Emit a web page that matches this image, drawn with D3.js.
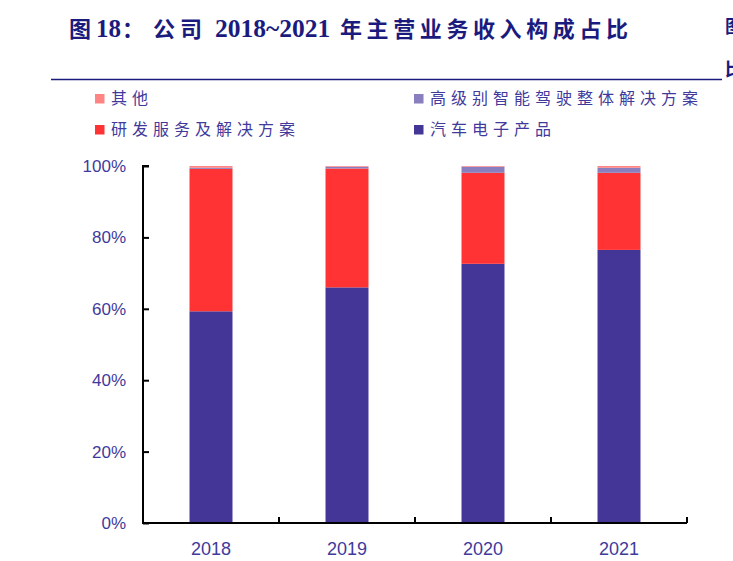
<!DOCTYPE html>
<html>
<head>
<meta charset="utf-8">
<script src="https://cdn.jsdelivr.net/npm/d3@7"></script>
<style>
  body { margin: 0; background: #fff; }
  svg { display: block; }
</style>
</head>
<body>
<svg id="chart" width="733" height="561"></svg>
<script>
// data (percent of main business revenue)
var years = ["2018", "2019", "2020", "2021"];
var autoElec = [59.3, 66.0, 72.6, 76.5];   // 汽车电子产品
var rdService = [39.9, 33.3, 25.5, 21.6];  // 研发服务及解决方案
var adasSolution = [0.3, 0.5, 1.7, 1.4];   // 高级别智能驾驶整体解决方案
var others = [0.5, 0.2, 0.2, 0.5];         // 其他
var yTicks = [0, 20, 40, 60, 80, 100];

var seriesKeys = ["auto", "rd", "adas", "other"];
var seriesNames = {
  auto: "汽车电子产品",
  rd: "研发服务及解决方案",
  adas: "高级别智能驾驶整体解决方案",
  other: "其他"
};
var colors = { auto: "#433696", rd: "#FF3334", adas: "#8A7FBE", other: "#FF8484" };

var rows = years.map(function(y, i) {
  return { year: y, auto: autoElec[i], rd: rdService[i], adas: adasSolution[i], other: others[i] };
});

var svg = d3.select("#chart");
var navy = "#1B1B7E";
var labelColor = "#3F3A9C";

// title, split in pieces so the spacing matches
var titleParts = [
  { t: "图", x: 69, ls: 0, fs: 22 },
  { t: "18", x: 96, ls: 0, fs: 25 },
  { t: "：", x: 122, ls: 0, fs: 22 },
  { t: "公司", x: 153, ls: 5, fs: 22 },
  { t: "2018~2021", x: 215, ls: 0, fs: 25.5 },
  { t: "年主营业务收入构成占比", x: 340, ls: 4.6, fs: 22 }
];
svg.append("text")
  .attr("y", 37)
  .attr("font-family", "'Liberation Serif', 'Noto Sans CJK SC', serif")
  .attr("font-weight", "bold")
  .attr("fill", navy)
  .selectAll("tspan").data(titleParts).enter().append("tspan")
  .attr("x", function(d) { return d.x; })
  .attr("font-size", function(d) { return d.fs; })
  .attr("letter-spacing", function(d) { return d.ls; })
  .text(function(d) { return d.t; });

// cut-off neighbour title at right edge
svg.append("text").attr("x", 725).attr("y", 33)
  .attr("font-family", "'Noto Sans CJK SC', sans-serif").attr("font-weight", "bold")
  .attr("font-size", 18).attr("fill", navy).text("图");
svg.append("text").attr("x", 725).attr("y", 76)
  .attr("font-family", "'Noto Sans CJK SC', sans-serif").attr("font-weight", "bold")
  .attr("font-size", 18).attr("fill", navy).text("比");

svg.append("line")
  .attr("x1", 51).attr("x2", 722).attr("y1", 79.5).attr("y2", 79.5)
  .attr("stroke", navy).attr("stroke-width", 1.5);

// legend
var legendItems = [
  { key: "other", x: 95, y: 94 },
  { key: "adas", x: 414, y: 94 },
  { key: "rd", x: 95, y: 125 },
  { key: "auto", x: 414, y: 125 }
];
var lg = svg.append("g").selectAll("g").data(legendItems).enter().append("g")
  .attr("transform", function(d) { return "translate(" + d.x + "," + d.y + ")"; });
lg.append("rect").attr("width", 9.5).attr("height", 9.5)
  .attr("fill", function(d) { return colors[d.key]; });
lg.append("text")
  .attr("x", 16).attr("y", 10)
  .attr("font-family", "'Noto Sans CJK SC', sans-serif")
  .attr("font-size", 16)
  .attr("letter-spacing", 5)
  .attr("fill", labelColor)
  .text(function(d) { return seriesNames[d.key]; });

// scales
var x = d3.scaleBand().domain(years).range([143, 687]).paddingInner(0.684).paddingOuter(0.342);
var y = d3.scaleLinear().domain([0, 100]).range([523, 166]);

var stack = d3.stack().keys(seriesKeys);
var stacked = stack(rows);

svg.append("g").selectAll("g").data(stacked).enter().append("g")
  .attr("fill", function(d) { return colors[d.key]; })
  .selectAll("rect").data(function(d) { return d; }).enter().append("rect")
  .attr("x", function(d) { return x(d.data.year); })
  .attr("width", x.bandwidth())
  .attr("y", function(d) { return y(d[1]); })
  .attr("height", function(d) { return y(d[0]) - y(d[1]); });

// y axis
var yAxis = d3.axisRight(y).tickValues(yTicks).tickSize(6)
  .tickFormat(function(d) { return d + "%"; });
var yg = svg.append("g").attr("transform", "translate(143,0)").call(yAxis);
yg.select(".domain").attr("stroke", "#000").attr("stroke-width", 2)
  .attr("d", "M6," + y(100) + "H0V" + y(0));
yg.selectAll(".tick line").attr("stroke", "#000").attr("stroke-width", 2);
yg.selectAll(".tick text")
  .attr("x", -17).attr("text-anchor", "end")
  .attr("font-family", "'Liberation Sans', Arial, sans-serif")
  .attr("font-size", 17)
  .attr("fill", labelColor);

// x axis: ticks on band edges, pointing up
var xg = svg.append("g").attr("transform", "translate(0,523)");
xg.append("line").attr("x1", 142).attr("x2", 687).attr("stroke", "#000").attr("stroke-width", 2);
xg.selectAll("line.edge").data(years).enter().append("line")
  .attr("class", "edge")
  .attr("x1", function(d) { return x(d) + x.bandwidth() + x.step() * x.paddingOuter(); })
  .attr("x2", function(d) { return x(d) + x.bandwidth() + x.step() * x.paddingOuter(); })
  .attr("y1", 0).attr("y2", -6)
  .attr("stroke", "#000").attr("stroke-width", 2);
xg.selectAll("text").data(years).enter().append("text")
  .attr("x", function(d) { return x(d) + x.bandwidth() / 2; })
  .attr("y", 32)
  .attr("text-anchor", "middle")
  .attr("font-family", "'Liberation Sans', Arial, sans-serif")
  .attr("font-size", 18)
  .attr("fill", labelColor)
  .text(function(d) { return d; });
</script>
</body>
</html>
